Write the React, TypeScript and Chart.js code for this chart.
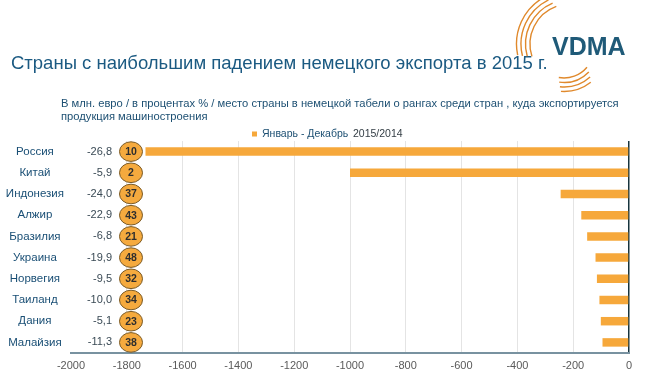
import React, { useEffect, useRef } from "react";
import { Chart, registerables } from "chart.js";

Chart.register(...registerables);

const countries = ["Россия", "Китай", "Индонезия", "Алжир", "Бразилия", "Украина", "Норвегия", "Таиланд", "Дания", "Малайзия"];
const changeMlnEur = [-1733, -1000, -245, -171, -150, -120, -115, -106, -101, -95];
const changePct = ["-26,8", "-5,9", "-24,0", "-22,9", "-6,8", "-19,9", "-9,5", "-10,0", "-5,1", "-11,3"];
const exportRank = [10, 2, 37, 43, 21, 48, 32, 34, 23, 38];
const xMin = -2000;
const xMax = 0;
const xStep = 200;

const titleText = "Страны с наибольшим падением немецкого экспорта в 2015 г.";
const subtitleLines = [
  "В млн. евро / в процентах % / место страны в немецкой табели о рангах среди стран , куда экспортируется",
  "продукция машиностроения",
];
const legendLabel = "Январь - Декабрь";
const legendPeriod = "2015/2014";

const FONT = '"Liberation Sans", Arial, sans-serif';
const BAR = "#F6A83B";
const BLUE = "#1b5a82";

const decorPlugin = {
  id: "decor",
  afterDraw(chart: any) {
    const ctx = chart.ctx as CanvasRenderingContext2D;
    const area = chart.chartArea;
    const yScale = chart.scales.y;
    ctx.save();
    // title
    ctx.fillStyle = BLUE;
    ctx.textBaseline = "alphabetic";
    ctx.textAlign = "left";
    ctx.font = `18.5px ${FONT}`;
    ctx.fillText(titleText, 11, 69);
    // subtitle
    ctx.fillStyle = "#1c4f72";
    ctx.font = `11.2px ${FONT}`;
    subtitleLines.forEach((l, i) => ctx.fillText(l, 61, 107 + i * 13.3));
    // legend
    ctx.fillStyle = BAR;
    ctx.fillRect(252, 131.5, 5, 5);
    ctx.font = `10.5px ${FONT}`;
    ctx.fillStyle = "#1c4f72";
    ctx.textBaseline = "middle";
    ctx.fillText(legendLabel, 262, 134);
    ctx.fillStyle = "#333d44";
    ctx.fillText(legendPeriod, 353, 134);
    // logo arcs
    ctx.strokeStyle = "#e0892c";
    ctx.lineWidth = 1.4;
    const cx = 570, cy = 44;
    [40, 44.5, 49, 53.5].forEach((r, i) => {
      ctx.beginPath();
      ctx.arc(cx, cy, r, (162 + i * 2) * Math.PI / 180, (250 - i * 3) * Math.PI / 180);
      ctx.stroke();
    });
    [30, 34.5, 39, 43.5].forEach((r, i) => {
      ctx.beginPath();
      ctx.arc(cx - 6, cy + 4, r, (40 + i * 4) * Math.PI / 180, (100 - i * 2) * Math.PI / 180);
      ctx.stroke();
    });
    ctx.fillStyle = "#1f5a78";
    ctx.font = `bold 25px ${FONT}`;
    ctx.textBaseline = "alphabetic";
    ctx.fillText("VDMA", 552, 55);
    // per-row percent values and rank circles
    countries.forEach((_, i) => {
      const y = yScale.getPixelForValue(i);
      ctx.font = `11px ${FONT}`;
      ctx.fillStyle = "#3a4a55";
      ctx.textAlign = "right";
      ctx.textBaseline = "middle";
      ctx.fillText(changePct[i], area.left + 41, y);
      const ex = area.left + 60;
      ctx.beginPath();
      ctx.ellipse(ex, y, 11.5, 9.8, 0, 0, Math.PI * 2);
      ctx.fillStyle = "#F5AA3E";
      ctx.fill();
      ctx.strokeStyle = "#7a5a26";
      ctx.lineWidth = 1;
      ctx.stroke();
      ctx.fillStyle = "#2e2e2e";
      ctx.textAlign = "center";
      ctx.font = `bold 10.5px ${FONT}`;
      ctx.fillText(String(exportRank[i]), ex, y + 0.5);
    });
    ctx.restore();
  },
};

export default function App() {
  const ref = useRef<HTMLCanvasElement | null>(null);
  useEffect(() => {
    if (!ref.current) return;
    Chart.defaults.font.family = FONT;
    const chart = new Chart(ref.current, {
      type: "bar",
      data: {
        labels: countries,
        datasets: [
          {
            label: legendLabel,
            data: changeMlnEur,
            backgroundColor: BAR,
            borderWidth: 0,
            categoryPercentage: 1,
            barPercentage: 0.4,
          },
        ],
      },
      options: {
        indexAxis: "y",
        responsive: false,
        animation: false,
        devicePixelRatio: 1,
        layout: { padding: { top: 141, right: 20, bottom: 0, left: 0 } },
        plugins: {
          legend: { display: false },
          title: { display: false },
          tooltip: { enabled: false },
        },
        scales: {
          x: {
            type: "linear",
            position: "bottom",
            min: xMin,
            max: xMax,
            ticks: {
              stepSize: xStep,
              font: { size: 11 },
              color: "#5a5a5a",
              padding: 6,
              callback: (v: any) => String(v),
            },
            grid: {
              drawTicks: false,
              color: (c: any) =>
                c.tick && c.tick.value === 0 ? "#17343d" : c.tick && c.tick.value === xMin ? "rgba(0,0,0,0)" : "#e4e4e4",
              lineWidth: (c: any) => (c.tick && c.tick.value === 0 ? 1.5 : 1),
            },
            border: { color: "#7892a0", width: 2 },
            afterFit: (s: any) => {
              s.height = 32;
            },
          },
          y: {
            type: "category",
            ticks: {
              font: { size: 11.5 },
              color: "#1a4f75",
              crossAlign: "center",
              padding: 7,
            },
            grid: { display: false, drawTicks: false },
            border: { display: false },
            afterFit: (s: any) => {
              s.width = 71;
            },
          },
        },
      },
      plugins: [decorPlugin],
    });
    return () => chart.destroy();
  }, []);
  return (
    <div style={{ position: "absolute", left: 0, top: 0, width: 649, height: 385, background: "#fff" }}>
      <canvas ref={ref} width={649} height={385} />
    </div>
  );
}
